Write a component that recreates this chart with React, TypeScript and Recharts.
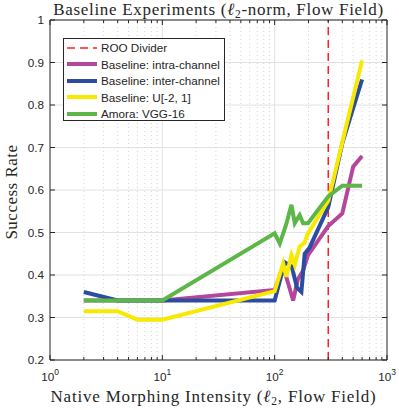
import { LineChart, Line, XAxis, YAxis, CartesianGrid, ReferenceLine, Legend } from "recharts";

if (typeof document !== "undefined") document.body.style.margin = "0";

// x values are ell_2 intensity (log axis), y values are success rate
const intraX = [2, 10, 100, 119, 132, 146, 161, 179, 198, 300, 400, 500, 600];
const intraY = [0.34, 0.34, 0.365, 0.42, 0.38, 0.34, 0.39, 0.41, 0.447, 0.515, 0.545, 0.655, 0.68];

const interX = [2, 4, 10, 100, 123, 142, 158, 173, 185, 205, 300, 400, 600];
const interY = [0.36, 0.34, 0.34, 0.34, 0.43, 0.42, 0.37, 0.36, 0.45, 0.465, 0.56, 0.71, 0.86];

const uniformX = [2, 4, 6, 10, 100, 119, 127, 141, 151, 167, 183, 198, 300, 600];
const uniformY = [0.315, 0.315, 0.295, 0.295, 0.362, 0.427, 0.396, 0.447, 0.424, 0.467, 0.475, 0.498, 0.575, 0.905];

const amoraX = [2, 10, 100, 111, 127, 141, 151, 167, 179, 198, 300, 400, 600];
const amoraY = [0.34, 0.34, 0.498, 0.474, 0.52, 0.565, 0.522, 0.541, 0.522, 0.522, 0.585, 0.61, 0.61];

const ROO_X = 300;

const X_MAJOR = [1, 10, 100, 1000];
const X_MINOR = [2, 3, 4, 5, 6, 7, 8, 9, 20, 30, 40, 50, 60, 70, 80, 90, 200, 300, 400, 500, 600, 700, 800, 900];
const X_TICKS = [...X_MAJOR, ...X_MINOR].sort((a, b) => a - b);
const Y_TICKS = [0.2, 0.3, 0.4, 0.5, 0.6, 0.7, 0.8, 0.9, 1];

const toPoints = (xs: number[], ys: number[]) => xs.map((x, i) => ({ x, y: ys[i] }));

const series = [
  { name: "Baseline: intra-channel", color: "#B4479B", data: toPoints(intraX, intraY) },
  { name: "Baseline: inter-channel", color: "#2C4C9F", data: toPoints(interX, interY) },
  { name: "Baseline: U[-2, 1]", color: "#F7EA00", data: toPoints(uniformX, uniformY) },
  { name: "Amora: VGG-16", color: "#5CB748", data: toPoints(amoraX, amoraY) },
];

const AXIS = "#262626";
const SANS = '"Liberation Sans", Arial, sans-serif';
const SERIF = '"Liberation Serif", "Times New Roman", serif';

const isMajor = (v: number) => X_MAJOR.includes(v);

function BottomTick({ x, y, payload }: any) {
  const v = payload.value;
  const major = isMajor(v);
  return (
    <g>
      <line x1={x} x2={x} y1={y} y2={y - (major ? 5 : 3)} stroke={AXIS} />
      {major && (
        <text x={x} y={y + 21} textAnchor="middle" fill={AXIS} fontSize={11.7} fontFamily={SANS}>
          10<tspan dy={-6} fontSize={8.5}>{Math.round(Math.log10(v))}</tspan>
        </text>
      )}
    </g>
  );
}

function TopTick({ x, y, payload }: any) {
  const major = isMajor(payload.value);
  return <line x1={x} x2={x} y1={y} y2={y + (major ? 5 : 3)} stroke={AXIS} />;
}

function LeftTick({ x, y, payload }: any) {
  const v = payload.value;
  return (
    <g>
      <line x1={x} x2={x + 5} y1={y} y2={y} stroke={AXIS} />
      <text x={x - 6} y={y + 4} textAnchor="end" fill={AXIS} fontSize={11.7} fontFamily={SANS}>
        {v === 1 ? "1" : v.toFixed(1)}
      </text>
    </g>
  );
}

function RightTick({ x, y }: any) {
  return <line x1={x} x2={x - 5} y1={y} y2={y} stroke={AXIS} />;
}

function LegendBox() {
  const rows = [{ name: "ROO Divider", color: "#FF2020", dashed: true }, ...series.map((s) => ({ ...s, dashed: false }))];
  return (
    <div
      style={{
        border: `1px solid ${AXIS}`,
        background: "#fff",
        width: 162,
        height: 83,
        boxSizing: "border-box",
        padding: "0.5px 0 0 3px",
        fontFamily: SANS,
        fontSize: 11.7,
        color: AXIS,
      }}
    >
      {rows.map((r) => (
        <div key={r.name} style={{ display: "flex", alignItems: "center", height: 16.5 }}>
          <svg width={30} height={8} style={{ flex: "none" }}>
            <line
              x1={0}
              x2={30}
              y1={4}
              y2={4}
              stroke={r.color}
              strokeWidth={r.dashed ? 1.5 : 4}
              strokeDasharray={r.dashed ? "8 5" : undefined}
            />
          </svg>
          <span style={{ marginLeft: 4, whiteSpace: "nowrap" }}>{r.name}</span>
        </div>
      ))}
    </div>
  );
}

const serifText = {
  position: "absolute" as const,
  fontFamily: SERIF,
  fontSize: 17,
  color: AXIS,
  whiteSpace: "nowrap" as const,
  lineHeight: "20px",
};

const subStyle = { fontSize: 11.5, lineHeight: 0, verticalAlign: "-3px" };

export default function App() {
  return (
    <div style={{ position: "relative", width: 399, height: 410, background: "#fff" }}>
      <LineChart width={399} height={410} margin={{ top: 18, right: 10, bottom: 30, left: 10 }}>
        <CartesianGrid vertical={false} stroke="#E2E2E2" />
        {X_TICKS.filter((v) => v > 1 && v < 1000).map((v) => (
          <ReferenceLine
            key={v}
            x={v}
            stroke={isMajor(v) ? "#E2E2E2" : "#D4D4D4"}
            strokeDasharray={isMajor(v) ? undefined : "1 3"}
            zIndex={-100}
          />
        ))}
        <XAxis
          dataKey="x"
          type="number"
          scale="log"
          domain={[1, 1000]}
          ticks={X_TICKS}
          interval={0}
          allowDataOverflow
          height={20}
          tickSize={0}
          tickMargin={0}
          tick={BottomTick}
          stroke={AXIS}
        />
        <XAxis
          xAxisId="top"
          orientation="top"
          dataKey="x"
          type="number"
          scale="log"
          domain={[1, 1000]}
          ticks={X_TICKS}
          interval={0}
          allowDataOverflow
          height={2}
          tickSize={0}
          tickMargin={0}
          tick={TopTick}
          stroke={AXIS}
        />
        <YAxis
          type="number"
          domain={[0.2, 1]}
          ticks={Y_TICKS}
          interval={0}
          allowDataOverflow
          width={40}
          tickSize={0}
          tickMargin={0}
          tick={LeftTick}
          stroke={AXIS}
        />
        <YAxis
          yAxisId="right"
          orientation="right"
          type="number"
          domain={[0.2, 1]}
          ticks={Y_TICKS}
          interval={0}
          allowDataOverflow
          width={2}
          tickSize={0}
          tickMargin={0}
          tick={RightTick}
          stroke={AXIS}
        />
        <ReferenceLine x={ROO_X} stroke="#FF2020" strokeWidth={1.5} strokeDasharray="8 5" />
        {series.map((s) => (
          <Line
            key={s.name}
            data={s.data}
            dataKey="y"
            name={s.name}
            type="linear"
            stroke={s.color}
            strokeWidth={4}
            dot={false}
            activeDot={false}
            isAnimationActive={false}
          />
        ))}
        <Legend
          layout="vertical"
          align="center"
          verticalAlign="middle"
          wrapperStyle={{ left: 63, top: 38, width: 162 }}
          content={() => <LegendBox />}
        />
      </LineChart>

      <div style={{ ...serifText, left: 20, width: 397, top: 0, textAlign: "center", letterSpacing: 0.7 }}>
        Baseline Experiments (<i>ℓ</i>
        <span style={subStyle}>2</span>-norm, Flow Field)
      </div>

      <div style={{ ...serifText, left: 15, width: 397, top: 387, textAlign: "center", letterSpacing: 0.8 }}>
        Native Morphing Intensity (<i>ℓ</i>
        <span style={subStyle}>2</span>, Flow Field)
      </div>

      <div
        style={{
          ...serifText,
          left: 12,
          top: 192,
          transform: "translate(-50%, -50%) rotate(-90deg)",
          letterSpacing: 0.5,
        }}
      >
        Success Rate
      </div>
    </div>
  );
}
